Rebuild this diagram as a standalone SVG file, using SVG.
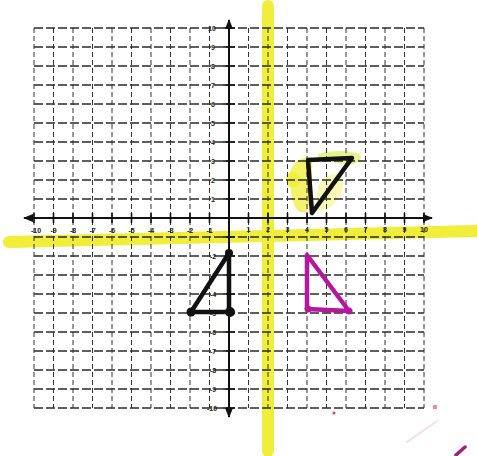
<svg xmlns="http://www.w3.org/2000/svg" width="477" height="456" viewBox="0 0 477 456">
<style>
.hl{fill:none;stroke:#f0ee3a;stroke-linecap:round}
.gh{fill:none;stroke:#2a2a2a;stroke-width:1.4;stroke-dasharray:9 3}
.gv{fill:none;stroke:#333;stroke-width:1;stroke-dasharray:5 3}
.ax{fill:none;stroke:#111;stroke-width:2}
.tk{fill:none;stroke:#111;stroke-width:1.6}
.lb{font-family:"Liberation Sans",Arial,sans-serif;font-size:7px;font-weight:bold;fill:#222;text-anchor:middle}
.tri{fill:none;stroke-width:4.5;stroke-linejoin:round;stroke-linecap:round}
</style>
<defs>
<marker id="ah" viewBox="0 0 10 10" refX="9" refY="5" markerWidth="5" markerHeight="5" orient="auto-start-reverse">
<path d="M0,1 L10,5 L0,9 z" fill="#111"/>
</marker>
</defs>
<rect width="477" height="456" fill="#fff"/>
<!-- highlighter -->
<g id="highlights">
<path d="M290,172 C294,160 304,156 312,158 L312,200 C306,206 310,214 300,212 C292,208 290,190 290,172 Z" fill="#f0ee3a" opacity="0.75"/>
<path d="M318,186 C326,176 336,170 342,176 C346,186 340,198 332,206 C324,212 316,212 316,204 Z" fill="#f2f07a" opacity="0.55"/>
<path d="M318,154 C330,150 348,150 360,154 C364,160 356,166 344,164 C334,162 322,162 318,158 Z" fill="#d8ec50" opacity="0.65"/>
<path d="M286,176 C290,170 298,170 300,178 C302,186 292,190 288,186 Z" fill="#f0ee3a" opacity="0.9"/>
<line class="hl" x1="268" y1="6" x2="268" y2="451" stroke-width="12"/>
<line class="hl" x1="9" y1="242" x2="477" y2="231" stroke-width="12"/>
</g>
<!-- grid -->
<g id="grid">
<path class="gh" d="M34 28H424M34 47H424M34 66H424M34 85H424M34 104H424M34 123H424M34 142H424M34 161H424M34 180H424M34 199H424M34 237H424M34 256H424M34 275H424M34 294H424M34 313H424M34 332H424M34 351H424M34 370H424M34 389H424M34 408H424"/>
<path class="gv" d="M34 28V408M53.5 28V408M73 28V408M92.5 28V408M112 28V408M131.5 28V408M151 28V408M170.5 28V408M190 28V408M209.5 28V408M248.5 28V408M268 28V408M287.5 28V408M307 28V408M326.5 28V408M346 28V408M365.5 28V408M385 28V408M404.5 28V408M424 28V408"/>
</g>
<!-- axes -->
<g id="axes">
<line class="ax" x1="24" y1="218" x2="432" y2="218" marker-start="url(#ah)" marker-end="url(#ah)"/>
<line class="ax" x1="229" y1="20" x2="229" y2="417" marker-start="url(#ah)" marker-end="url(#ah)"/>
<path class="tk" d="M34 213V223M53.5 213V223M73 213V223M92.5 213V223M112 213V223M131.5 213V223M151 213V223M170.5 213V223M190 213V223M209.5 213V223M248.5 213V223M268 213V223M287.5 213V223M307 213V223M326.5 213V223M346 213V223M365.5 213V223M385 213V223M404.5 213V223M424 213V223"/>
<path class="tk" d="M223 28H235M223 47H235M223 66H235M223 85H235M223 104H235M223 123H235M223 142H235M223 161H235M223 180H235M223 199H235M223 237H235M223 256H235M223 275H235M223 294H235M223 313H235M223 332H235M223 351H235M223 370H235M223 389H235M223 408H235"/>
</g>
<g id="labels">
<text class="lb" x="36" y="233">-10</text>
<text class="lb" x="53.5" y="233">-9</text>
<text class="lb" x="73" y="233">-8</text>
<text class="lb" x="92.5" y="233">-7</text>
<text class="lb" x="112" y="233">-6</text>
<text class="lb" x="131.5" y="233">-5</text>
<text class="lb" x="151" y="233">-4</text>
<text class="lb" x="170.5" y="233">-3</text>
<text class="lb" x="190" y="233">-2</text>
<text class="lb" x="209.5" y="233">-1</text>
<text class="lb" x="248.5" y="232">1</text>
<text class="lb" x="268" y="232">2</text>
<text class="lb" x="287.5" y="232">3</text>
<text class="lb" x="307" y="232">4</text>
<text class="lb" x="326.5" y="232">5</text>
<text class="lb" x="346" y="232">6</text>
<text class="lb" x="365.5" y="232">7</text>
<text class="lb" x="385" y="232">8</text>
<text class="lb" x="404.5" y="232">9</text>
<text class="lb" x="424" y="232">10</text>
<text class="lb" x="212" y="30.5">10</text>
<text class="lb" x="213" y="49.5">9</text>
<text class="lb" x="213" y="68.5">8</text>
<text class="lb" x="213" y="87.5">7</text>
<text class="lb" x="213" y="106.5">6</text>
<text class="lb" x="213" y="125.5">5</text>
<text class="lb" x="213" y="144.5">4</text>
<text class="lb" x="213" y="163.5">3</text>
<text class="lb" x="213" y="182.5">2</text>
<text class="lb" x="213" y="201.5">1</text>
<text class="lb" x="213" y="258.5">-2</text>
<text class="lb" x="213" y="277.5">-3</text>
<text class="lb" x="213" y="296.5">-4</text>
<text class="lb" x="213" y="315.5">-5</text>
<text class="lb" x="213" y="334.5">-6</text>
<text class="lb" x="213" y="353.5">-7</text>
<text class="lb" x="213" y="372.5">-8</text>
<text class="lb" x="213" y="391.5">-9</text>
<text class="lb" x="212" y="410.5">-10</text>
</g>
<!-- triangles -->
<g id="triangle-q1">
<polygon class="tri" points="308,160 352,158 312,213" stroke="#111" stroke-width="6"/>
</g>
<g id="triangle-q3">
<polygon class="tri" points="229,253 191,312 229,312" stroke="#111"/>
<circle cx="229" cy="253" r="4" fill="#111"/>
<circle cx="191" cy="312" r="4.5" fill="#111"/>
<circle cx="230" cy="312" r="5" fill="#111"/>
</g>
<g id="triangle-q4">
<polygon class="tri" points="307,255 307,309 349,311" stroke="#b5179e"/>
<circle cx="308" cy="309" r="3.5" fill="#b5179e"/>
<circle cx="349" cy="311" r="3.5" fill="#b5179e"/>
</g>
<g id="marks">
<rect x="433" y="405" width="4" height="4" fill="#f08aa8"/>
<circle cx="334" cy="413" r="1.5" fill="#d0406a"/>
<line x1="407" y1="442" x2="437" y2="421" stroke="#f8dde3" stroke-width="2" stroke-linecap="round"/>
<line x1="456" y1="455" x2="465" y2="447" stroke="#a0207e" stroke-width="3.5" stroke-linecap="round"/>
</g>
</svg>
